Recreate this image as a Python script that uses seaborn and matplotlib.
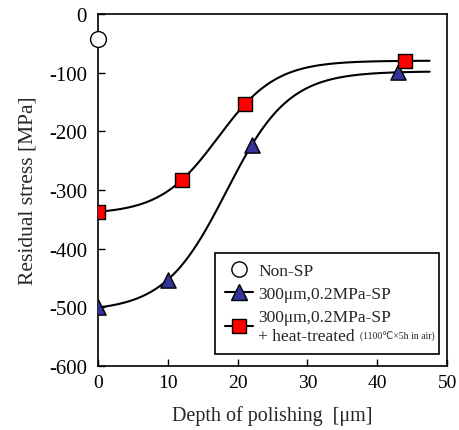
import numpy as np
import pandas as pd
import matplotlib
matplotlib.use("Agg")
import matplotlib.pyplot as plt
import seaborn as sns
from matplotlib.lines import Line2D

# values
nonsp_depth = [0]
nonsp_stress = [-43]
sp_depth = [0, 10, 22, 43]
sp_stress = [-500, -453, -224, -99]
ht_depth = [0, 12, 21, 44]
ht_stress = [-337, -283, -154, -80]

labels = ["Non-SP", "300\u03bcm,0.2MPa-SP", "300\u03bcm,0.2MPa-SP\n+ heat-treated"]
note = "(1100\u2103\u00d75h in air)"


def fit_sigmoid(x, y):
    # grid search for centre/width, least squares for the two plateaus
    x = np.asarray(x, float)
    y = np.asarray(y, float)
    best = None
    for c in np.linspace(8, 30, 221):
        for w in np.linspace(1, 10, 181):
            s = 1 / (1 + np.exp(-(x - c) / w))
            A = np.column_stack([1 - s, s])
            coef = np.linalg.lstsq(A, y, rcond=None)[0]
            err = np.sum((A @ coef - y) ** 2)
            if best is None or err < best[0]:
                best = (err, c, w, coef)
    _, c, w, (lo, hi) = best
    return lambda t: lo + (hi - lo) / (1 + np.exp(-(t - c) / w))


sns.set_style("ticks")
plt.rcParams["font.family"] = ["Liberation Serif", "DejaVu Sans"]
plt.rcParams["xtick.direction"] = "in"
plt.rcParams["ytick.direction"] = "in"
plt.rcParams["axes.unicode_minus"] = False

fig = plt.figure(figsize=(4.59, 4.31), dpi=100)
ax = fig.add_axes([0.2135, 0.1485, 0.7605, 0.8165])

xs = np.linspace(0, 47.5, 300)
f_sp = fit_sigmoid(sp_depth, sp_stress)
f_ht = fit_sigmoid(ht_depth, ht_stress)
curves = pd.concat([
    pd.DataFrame({"x": xs, "y": f_sp(xs), "s": "sp"}),
    pd.DataFrame({"x": xs, "y": f_ht(xs), "s": "ht"}),
])
sns.lineplot(data=curves, x="x", y="y", units="s", estimator=None,
             color="black", linewidth=1.5, ax=ax, legend=False)

sns.scatterplot(x=sp_depth, y=sp_stress, marker="^", s=120, color="#333399",
                edgecolor="black", linewidth=1, ax=ax, zorder=3, legend=False)
sns.scatterplot(x=ht_depth, y=ht_stress, marker="s", s=110, color="#ff0000",
                edgecolor="black", linewidth=1, ax=ax, zorder=3, legend=False)
sns.scatterplot(x=nonsp_depth, y=nonsp_stress, marker="o", s=130, color="white",
                edgecolor="black", linewidth=1, ax=ax, zorder=3, legend=False,
                clip_on=False)

ax.set_xlim(0, 50)
ax.set_ylim(-600, 0)
ax.set_xticks(range(0, 51, 10))
ax.set_yticks(range(-600, 1, 100))
ax.tick_params(length=5, width=1, color="black", labelcolor="black")
ax.tick_params(axis="x", labelsize=14, pad=6)
ax.tick_params(axis="y", labelsize=15, pad=8)
for sp in ax.spines.values():
    sp.set_linewidth(1.2)
    sp.set_color("black")
ax.set_xlabel("Depth of polishing  [\u03bcm]", fontsize=14.5, labelpad=10)
ax.set_ylabel("Residual stress [MPa]", fontsize=15.5, labelpad=8)

handles = [
    Line2D([], [], linestyle="none", marker="o", markersize=11,
           markerfacecolor="white", markeredgecolor="black"),
    Line2D([], [], color="black", linewidth=1.5, marker="^", markersize=11,
           markerfacecolor="#333399", markeredgecolor="black"),
    Line2D([], [], color="black", linewidth=1.5, marker="s", markersize=10,
           markerfacecolor="#ff0000", markeredgecolor="black"),
]
leg = ax.legend(handles, labels, loc="lower left",
                bbox_to_anchor=(0.335, 0.034, 0.642, 0.29), mode="expand",
                borderaxespad=0, fontsize=12.5, frameon=True, fancybox=False,
                framealpha=1, edgecolor="black", handlelength=1.6,
                handletextpad=0.3, labelspacing=0.4, borderpad=0.6)
leg.get_frame().set_linewidth(1.2)

# small note after "+ heat-treated", placed in pixels once the legend is laid out
fig.canvas.draw()
renderer = fig.canvas.get_renderer()
lab = leg.get_texts()[2]
bb = lab.get_window_extent(renderer)
tmp = fig.text(0, 0, "+ heat-treated", fontsize=12.5)
w = tmp.get_window_extent(renderer).width
tmp.remove()
W, H = fig.bbox.width, fig.bbox.height
fig.text((bb.x0 + w + 5) / W, (bb.y0 + 3) / H, note, fontsize=7, va="bottom")

fig.savefig("out.png", dpi=100)
